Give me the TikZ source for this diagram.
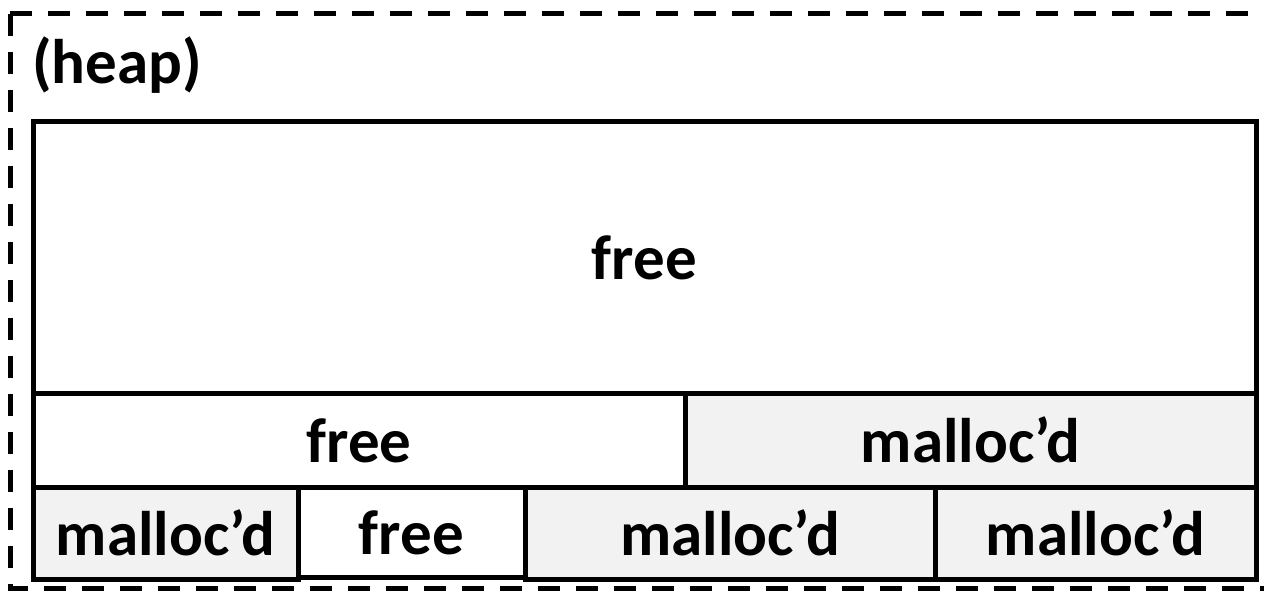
\documentclass[tikz,border=0pt]{standalone}
\usepackage{fontspec}
\setmainfont{Carlito}
\definecolor{cellgrey}{HTML}{F2F2F2}
\begin{document}
\begin{tikzpicture}[x=1pt,y=-1pt,
  cell/.style={draw=black, line width=5pt, inner sep=0pt, font=\bfseries\fontsize{63}{63}\selectfont, text height=44pt, text depth=0pt},
  freecell/.style={cell, fill=white},
  malloccell/.style={cell, fill=cellgrey},
  heapframe/.style={draw=black, line width=5pt, dash pattern=on 22pt off 16pt}]
\clip (0,0) rectangle (1264,591);
\useasboundingbox (0,0) rectangle (1264,591);
\fill[white] (0,0) rectangle (1264,591);
\draw[heapframe] (10,14) -- (1300,14) (10,14) -- (10,588) -- (1300,588);
\node[anchor=base west, font=\bfseries\fontsize{63}{63}\selectfont, inner sep=0pt] (heap) at (32,84) {(heap)};
\node[freecell, minimum width=1223pt, minimum height=271pt] (a) at (644.5,257.5) {free};
\node[freecell, minimum width=652pt, minimum height=94pt] (b) at (359,440) {free};
\node[malloccell, minimum width=571pt, minimum height=94pt] (c) at (970.5,440) {malloc'd};
\node[malloccell, minimum width=265pt, minimum height=92pt] (d) at (165.5,533) {malloc'd};
\node[freecell, minimum width=227pt, minimum height=90pt] (e) at (411.5,532) {free};
\node[malloccell, minimum width=410pt, minimum height=92pt] (f) at (730,533) {malloc'd};
\node[malloccell, minimum width=321pt, minimum height=92pt] (g) at (1095.5,533) {malloc'd};
\end{tikzpicture}
\end{document}
